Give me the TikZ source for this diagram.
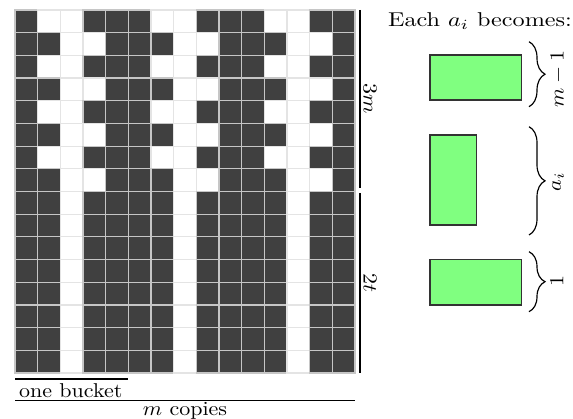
\documentclass[tikz,border=0pt]{standalone}
\usetikzlibrary{decorations.pathreplacing}
\definecolor{darkcell}{RGB}{64,64,64}
\definecolor{gridgray}{RGB}{228,228,228}
\definecolor{boxgreen}{RGB}{128,255,128}
\begin{document}
\begin{tikzpicture}[x=0.3pt,y=-0.3pt,
  lightcell/.style={fill=white,draw=gridgray,line width=0.35pt},
  darkbox/.style={fill=darkcell,draw=gridgray!70!gray,line width=0.35pt},
  rule/.style={draw=black,line width=0.35pt},
  greenbox/.style={fill=boxgreen,draw=black!80,line width=0.35pt},
  bracedec/.style={decorate,decoration={brace,amplitude=4.8pt},line width=0.35pt},
  lbl/.style={font=\normalsize,inner sep=0pt,xscale=0.66,yscale=0.6}]
\useasboundingbox (0,0) rectangle (573,419);
% grid: 15 columns x 16 rows
\foreach \r in {0,...,15}{
  \foreach \c in {0,...,14}{
    \pgfmathtruncatemacro\k{mod(\c,5)}
    \pgfmathtruncatemacro\odd{mod(\r,2)}
    \pgfmathtruncatemacro\dk{(\k==0)||(\k==4)||((\k==1)&&((\r>7)||(\odd==1)))||((\k==3)&&((\r>7)||(\odd==0)))}
    \ifnum\dk=1
      \path[darkbox] (15+22.67*\c,10+22.69*\r) rectangle ++(22.67,22.69);
    \else
      \path[lightcell] (15+22.67*\c,10+22.69*\r) rectangle ++(22.67,22.69);
    \fi
  }
}
% side measures
\coordinate (t1) at (360,10);
\coordinate (t2) at (360,188);
\coordinate (b1) at (360,193);
\coordinate (b2) at (360,373);
\draw[rule] (t1) -- (t2);
\draw[rule] (b1) -- (b2);
\node[rotate=-90,lbl] (l3m) at (370,99) {$3m$};
\node[rotate=-90,lbl] (l2t) at (370,283) {$2t$};
% bottom measures
\coordinate (ob1) at (15,379);
\coordinate (ob2) at (128,379);
\coordinate (mc1) at (15,400.7);
\coordinate (mc2) at (355,400.7);
\draw[rule] (ob1) -- (ob2);
\draw[rule] (mc1) -- (mc2);
\node[lbl] (onebucket) at (70.8,390.5) {one bucket};
\node[lbl] (mcopies) at (185,410.5) {$m$ copies};
% right part
\node[lbl,xscale=1.1] (title) at (480,21) {Each $a_i$ becomes:};
\draw[greenbox] (430,55) rectangle (521.7,100);
\draw[greenbox] (430,135) rectangle (476.7,225);
\draw[greenbox] (430,259.3) rectangle (521.7,305);
\coordinate (br1a) at (529,41.7);
\coordinate (br1b) at (529,106.7);
\coordinate (br2a) at (529,126.7);
\coordinate (br2b) at (529,235);
\coordinate (br3a) at (529,251.7);
\coordinate (br3b) at (529,311.7);
\draw[bracedec] (br1a) -- (br1b);
\draw[bracedec] (br2a) -- (br2b);
\draw[bracedec] (br3a) -- (br3b);
\node[rotate=90,lbl] (lm1) at (558,79) {$m-1$};
\node[rotate=90,lbl] (lai) at (558,182) {$a_i$};
\node[rotate=90,lbl] (lone) at (557,281) {$1$};
\end{tikzpicture}
\end{document}
